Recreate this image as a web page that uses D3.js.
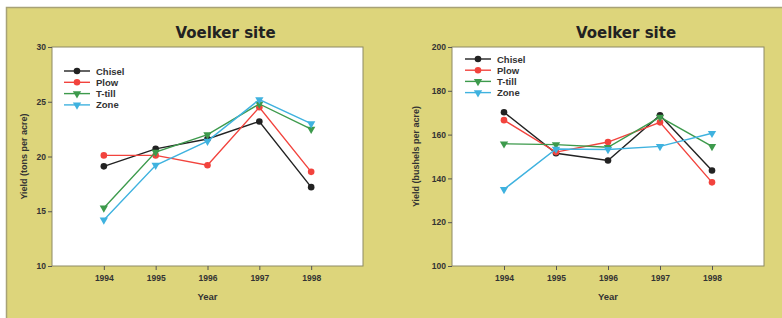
<!DOCTYPE html>
<html>
<head>
<meta charset="utf-8">
<script src="https://cdn.jsdelivr.net/npm/d3@7"></script>
<style>
  body { margin: 0; background: #fff; }
  svg { display: block; font-family: "Liberation Sans", Arial, sans-serif; }
  .tick text { font-weight: bold; fill: #333; }
</style>
</head>
<body>
<svg id="chart" width="782" height="318"></svg>
<script>
var years = [1994, 1995, 1996, 1997, 1998];
var seriesNames = ["Chisel", "Plow", "T-till", "Zone"];
var seriesColors = ["#222222", "#f2433d", "#3d9a4c", "#3fb2df"];
var seriesShapes = ["circle", "circle", "triangle", "triangle"];

// tons per acre
var tonsChisel = [19.1, 20.7, 21.6, 23.2, 17.2];
var tonsPlow = [20.1, 20.1, 19.2, 24.5, 18.6];
var tonsTtill = [15.3, 20.4, 22.0, 24.8, 22.5];
var tonsZone = [14.2, 19.2, 21.4, 25.2, 23.0];

// bushels per acre
var buChisel = [170.2, 151.5, 148.2, 168.8, 143.6];
var buPlow = [166.6, 152.0, 156.6, 165.6, 138.2];
var buTtill = [155.8, 155.4, 154.2, 168.0, 154.6];
var buZone = [135.0, 153.4, 153.2, 154.6, 160.6];

var tonsTicks = [10, 15, 20, 25, 30];
var buTicks = [100, 120, 140, 160, 180, 200];

var svg = d3.select("#chart");

// yellow frame
svg.append("rect")
    .attr("x", 6.5).attr("y", 7.5)
    .attr("width", 790).attr("height", 320)
    .attr("fill", "#ddd57b")
    .attr("stroke", "#a8a276").attr("stroke-width", 1.5);

function drawPanel(opts){
    var g = svg.append("g");
    var x = d3.scaleLinear().domain([1993, 1999]).range([opts.left, opts.right]);
    var y = d3.scaleLinear().domain(opts.domain).range([opts.bottom, opts.top]);

    g.append("rect")
        .attr("x", opts.left).attr("y", opts.top)
        .attr("width", opts.right - opts.left).attr("height", opts.bottom - opts.top)
        .attr("fill", "#fff")
        .attr("stroke", "#8d8a64").attr("stroke-width", 1);

    g.append("g")
        .attr("transform", "translate(" + opts.left + ",0)")
        .call(d3.axisLeft(y).tickValues(opts.ticks).tickSize(4).tickPadding(2))
        .call(s => s.select(".domain").remove())
        .call(s => s.selectAll("line").attr("stroke", "#555"))
        .call(s => s.selectAll("text").attr("font-size", 8.5));

    g.append("g")
        .attr("transform", "translate(0," + opts.bottom + ")")
        .call(d3.axisBottom(x).tickValues(years).tickFormat(d3.format("d")).tickSize(4).tickPadding(5))
        .call(s => s.select(".domain").remove())
        .call(s => s.selectAll("line").attr("stroke", "#555"))
        .call(s => s.selectAll("text").attr("font-size", 8.5));

    g.append("text")
        .attr("x", (opts.left + opts.right) / 2 + opts.titleShift).attr("y", 38)
        .attr("text-anchor", "middle")
        .attr("font-family", "'DejaVu Sans', sans-serif")
        .attr("font-size", 15).attr("font-weight", "bold").attr("fill", "#222")
        .text("Voelker site");

    g.append("text")
        .attr("x", (opts.left + opts.right) / 2).attr("y", 300)
        .attr("text-anchor", "middle")
        .attr("font-size", 9.5).attr("font-weight", "bold").attr("fill", "#333")
        .text("Year");

    g.append("text")
        .attr("transform", "translate(" + opts.ylabelX + "," + (opts.top + opts.bottom) / 2 + ") rotate(-90)")
        .attr("text-anchor", "middle")
        .attr("font-size", 9).attr("font-weight", "bold").attr("fill", "#333")
        .text(opts.ylabel);

    var line = d3.line().x((d, i) => x(years[i])).y(d => y(d));
    var tri = d3.symbol().type(d3.symbolTriangle).size(30);

    opts.series.forEach((vals, k) => {
        g.append("path")
            .attr("d", line(vals))
            .attr("fill", "none")
            .attr("stroke", seriesColors[k]).attr("stroke-width", 1.4);
        vals.forEach((v, i) => {
            drawMarker(g, seriesShapes[k], x(years[i]), y(v), seriesColors[k], tri);
        });
    });

    // legend
    seriesNames.forEach((name, k) => {
        var ly = opts.legendY + k * opts.legendStep;
        g.append("line")
            .attr("x1", opts.legendX).attr("x2", opts.legendX + 26)
            .attr("y1", ly).attr("y2", ly)
            .attr("stroke", seriesColors[k]).attr("stroke-width", 1.4);
        drawMarker(g, seriesShapes[k], opts.legendX + 13, ly, seriesColors[k], tri);
        g.append("text")
            .attr("x", opts.legendX + 32).attr("y", ly + 3.5)
            .attr("font-size", 9.5).attr("font-weight", "bold").attr("fill", "#333")
            .text(name);
    });
}

function drawMarker(g, shape, cx, cy, color, tri){
    if (shape == "circle"){
        g.append("circle")
            .attr("cx", cx).attr("cy", cy).attr("r", 3.3)
            .attr("fill", color);
    }
    else {
        g.append("path")
            .attr("d", tri)
            .attr("transform", "translate(" + cx + "," + cy + ") rotate(180)")
            .attr("fill", color);
    }
}

drawPanel({
    left: 52, right: 363, top: 47, bottom: 266,
    domain: [10, 30], ticks: tonsTicks,
    ylabel: "Yield (tons per acre)", ylabelX: 27, titleShift: 18,
    series: [tonsChisel, tonsPlow, tonsTtill, tonsZone],
    legendX: 64, legendY: 71, legendStep: 11.3
});

drawPanel({
    left: 452, right: 764, top: 47, bottom: 266,
    domain: [100, 200], ticks: buTicks,
    ylabel: "Yield (bushels per acre)", ylabelX: 419, titleShift: 18,
    series: [buChisel, buPlow, buTtill, buZone],
    legendX: 465, legendY: 59, legendStep: 11.2
});
</script>
</body>
</html>
